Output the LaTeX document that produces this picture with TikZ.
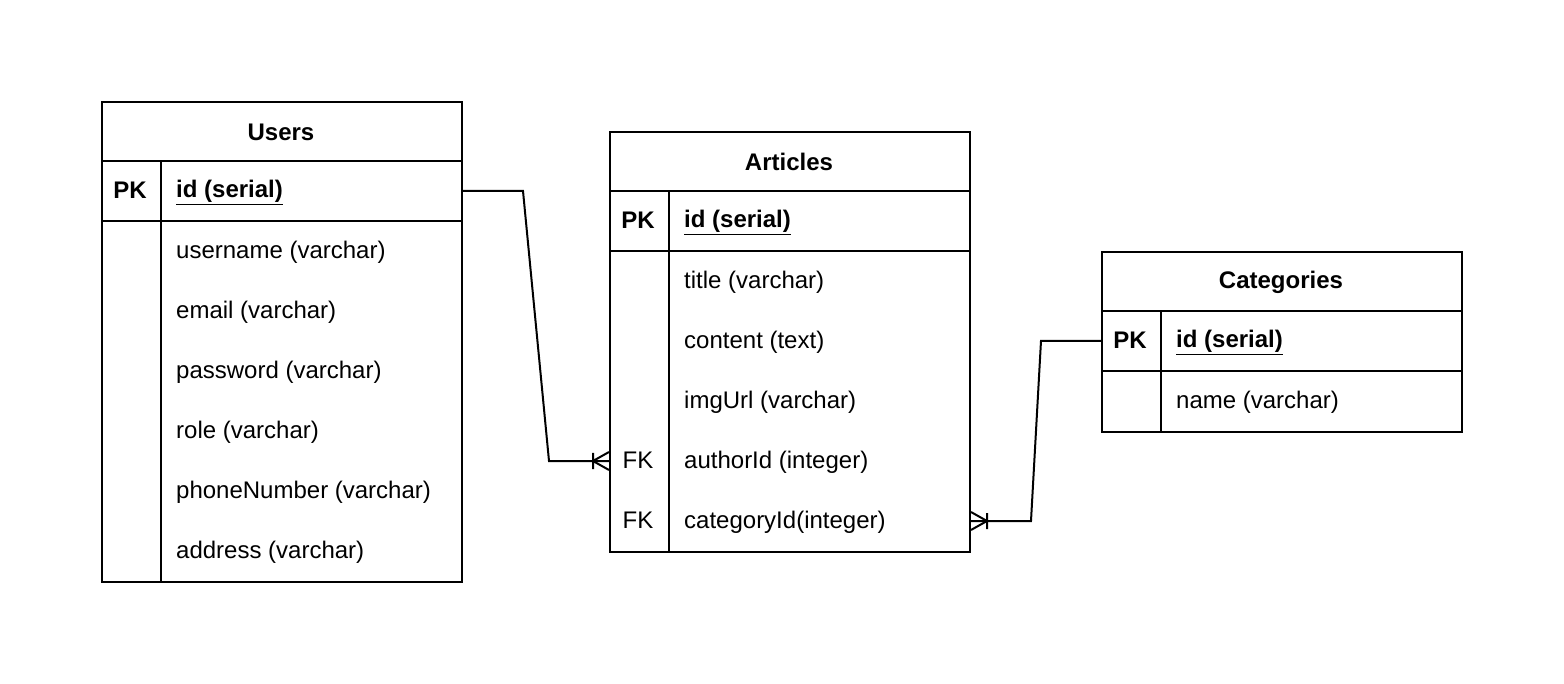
\documentclass[tikz,border=0pt]{standalone}
\usepackage{fontspec}
\setmainfont{Liberation Sans}
\begin{document}
\begin{tikzpicture}[x=1pt,y=-1pt,
  tbl/.style={draw, line width=2pt, anchor=north west, inner sep=0pt},
  fld/.style={font=\fontsize{24}{28}\selectfont, inner sep=0pt, anchor=west, yshift=-1.5pt},
  ttl/.style={font=\fontsize{24}{28}\selectfont\bfseries, inner sep=0pt, yshift=-1pt},
  key/.style={font=\fontsize{24}{28}\selectfont\bfseries, inner sep=0pt},
  fk/.style={font=\fontsize{24}{28}\selectfont, inner sep=0pt},
  sep/.style={line width=2pt},
  conn/.style={line width=2pt}]
\useasboundingbox (0,0) rectangle (1564,684);
\fill[white] (0,0) rectangle (1564,684);
% Users
\node[tbl, minimum width=360pt, minimum height=480pt] (users) at (101,101) {};
\draw[sep] ([yshift=-60pt]users.north west) -- ([yshift=-60pt]users.north east);
\draw[sep] ([yshift=-120pt]users.north west) -- ([yshift=-120pt]users.north east);
\draw[sep] ([shift={(60pt,-60pt)}]users.north west) -- ([xshift=60pt]users.south west);
\node[ttl] (usersT) at (281,131) {Users};
\node[key] (usersPK) at (130,190) {PK};
\node[fld] (usersId) at (176,191) {\textbf{\underline{id (serial)}}};
\node[fld] (u1) at (176,251) {username (varchar)};
\node[fld] (u2) at (176,311) {email (varchar)};
\node[fld] (u3) at (176,371) {password (varchar)};
\node[fld] (u4) at (176,431) {role (varchar)};
\node[fld] (u5) at (176,491) {phoneNumber (varchar)};
\node[fld] (u6) at (176,551) {address (varchar)};
% Articles
\node[tbl, minimum width=360pt, minimum height=420pt] (art) at (609,131) {};
\draw[sep] ([yshift=-60pt]art.north west) -- ([yshift=-60pt]art.north east);
\draw[sep] ([yshift=-120pt]art.north west) -- ([yshift=-120pt]art.north east);
\draw[sep] ([shift={(60pt,-60pt)}]art.north west) -- ([xshift=60pt]art.south west);
\node[ttl] (artT) at (789,161) {Articles};
\node[key] (artPK) at (638,220) {PK};
\node[fld] (artId) at (684,221) {\textbf{\underline{id (serial)}}};
\node[fld] (a1) at (684,281) {title (varchar)};
\node[fld] (a2) at (684,341) {content (text)};
\node[fld] (a3) at (684,401) {imgUrl (varchar)};
\node[fk] (fk1) at (638,460) {FK};
\node[fld] (a4) at (684,461) {authorId (integer)};
\node[fk] (fk2) at (638,520) {FK};
\node[fld] (a5) at (684,521) {categoryId(integer)};
% Categories
\node[tbl, minimum width=360pt, minimum height=180pt] (cat) at (1101,251) {};
\draw[sep] ([yshift=-60pt]cat.north west) -- ([yshift=-60pt]cat.north east);
\draw[sep] ([yshift=-120pt]cat.north west) -- ([yshift=-120pt]cat.north east);
\draw[sep] ([shift={(60pt,-60pt)}]cat.north west) -- ([xshift=60pt]cat.south west);
\node[ttl] (catT) at (1281,281) {Categories};
\node[key] (catPK) at (1130,340) {PK};
\node[fld] (catId) at (1176,341) {\textbf{\underline{id (serial)}}};
\node[fld] (c1) at (1176,401) {name (varchar)};
% Connector Users -> Articles
\draw[conn] ([yshift=-90pt]users.north east) -- ++(60,0)
  -- ([shift={(-60pt,-330pt)}]art.north west) -- ([yshift=-330pt]art.north west);
\draw[conn] ([shift={(-16pt,-330pt)}]art.north west) -- ++(16,-9)
  ([shift={(-16pt,-330pt)}]art.north west) -- ++(16,9)
  ([shift={(-16pt,-322pt)}]art.north west) -- ([shift={(-16pt,-338pt)}]art.north west);
% Connector Categories -> Articles
\draw[conn] ([yshift=-90pt]cat.north west) -- ++(-60,0)
  -- ([shift={(60pt,-390pt)}]art.north east) -- ([yshift=-390pt]art.north east);
\draw[conn] ([shift={(16pt,-390pt)}]art.north east) -- ++(-16,-9)
  ([shift={(16pt,-390pt)}]art.north east) -- ++(-16,9)
  ([shift={(16pt,-382pt)}]art.north east) -- ([shift={(16pt,-398pt)}]art.north east);
\end{tikzpicture}
\end{document}
